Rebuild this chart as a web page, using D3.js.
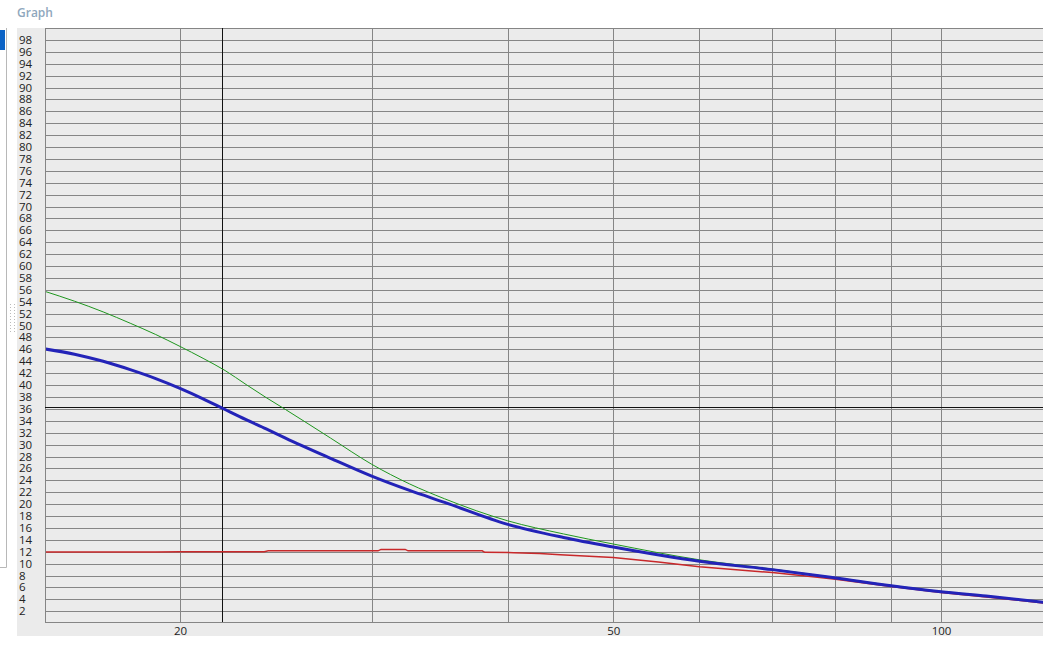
<!DOCTYPE html>
<html><head><meta charset="utf-8">
<script src="https://cdn.jsdelivr.net/npm/d3@7"></script>
<style>body{margin:0;background:#fff;overflow:hidden}svg{display:block}</style>
</head><body><svg id="c" width="1043" height="662"></svg>
<script>
// ---- data ----
const xValues     = [15, 16, 17, 18, 19, 20, 21, 22, 23, 24, 25, 27.5, 30, 32.5, 35, 40, 45, 50, 60, 70, 80, 90, 100, 110, 125];
const greenValues = [55.8, 54.1, 52.3, 50.4, 48.5, 46.5, 44.5, 42.45, 40.1, 37.9, 35.9, 31.1, 26.7, 23.4, 20.9, 17.2, 15.0, 13.3, 10.65, 9.1, 7.65, 6.35, 5.35, 4.6, 3.5];
const blueValues  = [46.1, 45.2, 44.0, 42.6, 41.1, 39.45, 37.7, 35.9, 34.2, 32.65, 31.1, 27.7, 24.7, 22.3, 20.3, 16.6, 14.4, 12.8, 10.4, 9.0, 7.6, 6.3, 5.3, 4.55, 3.45];
const redX        = [15, 19, 20, 23.9, 24.1, 30.4, 30.6, 32.2, 32.4, 37.9, 38.1, 40.5, 42.8, 44.7, 50, 55, 60, 70, 77, 80, 90, 100, 110, 125];
const redValues   = [11.95, 11.95, 12.0, 12.0, 12.15, 12.15, 12.4, 12.4, 12.15, 12.15, 11.9, 11.85, 11.7, 11.5, 11.05, 10.3, 9.5, 8.5, 7.7, 7.4, 6.15, 5.15, 4.4, 3.35];
const xGridValues = [20, 30, 40, 50, 60, 70, 80, 90, 100];
const xTickLabels = [20, 50, 100];
const yTickValues = d3.range(2, 100, 2);
const cursorX = 21.86, cursorY = 36.25;

// ---- layout ----
const svg = d3.select("#c");
const L = 45, T = 28, B = 621.7;
const x = d3.scaleLog().domain([20, 100]).range([180, 941]);
const y = d3.scaleLinear().domain([0.25, 100]).range([B, T]);
const W = 1043;
const font = "'Open Sans', 'Noto Sans', sans-serif";

// title
svg.append("text").attr("x", 17).attr("y", 17).text("Graph")
  .attr("font-family", font).attr("font-size", 12).attr("font-weight", 600)
  .attr("fill", "#8fa7bd");

// left decorations
svg.append("rect").attr("x", 0).attr("y", 30).attr("width", 5).attr("height", 20).attr("fill", "#0b63c6");
svg.append("path").attr("d", "M6.5,28V567.5H0").attr("fill", "none").attr("stroke", "#b8b8b8");
for (let r = 0; r < 10; r++) for (let c = 0; c < 2; c++) {
  svg.append("rect").attr("x", 10 + c * 4).attr("y", 304 + r * 3).attr("width", 1).attr("height", 1).attr("fill", "#bbb");
}

// panel background
svg.append("rect").attr("x", 17).attr("y", T).attr("width", W - 17).attr("height", 636 - T).attr("fill", "#ebebeb");

const gridColor = "#858585";
const g = svg.append("g").attr("shape-rendering", "crispEdges");
g.selectAll("line.h").data(yTickValues).join("line")
  .attr("x1", L).attr("x2", W).attr("y1", d => Math.round(y(d)) + 0.5).attr("y2", d => Math.round(y(d)) + 0.5)
  .attr("stroke", gridColor);
g.selectAll("line.v").data(xGridValues).join("line")
  .attr("x1", d => Math.round(x(d)) + 0.5).attr("x2", d => Math.round(x(d)) + 0.5).attr("y1", T).attr("y2", B)
  .attr("stroke", gridColor);
g.append("path").attr("d", `M${W},${T + 0.5}H${L + 0.5}V${Math.round(B) + 0.5}H${W}`).attr("fill", "none").attr("stroke", gridColor);

// y labels
svg.append("g").selectAll("text").data(yTickValues).join("text")
  .attr("x", 19).attr("y", d => y(d) + 4).text(d => d)
  .attr("font-family", font).attr("font-size", 11.5).attr("fill", "#222");
// x labels
svg.append("g").selectAll("text").data(xTickLabels).join("text")
  .attr("x", d => x(d) + 0.5).attr("y", 634.5).attr("text-anchor", "middle").text(d => d)
  .attr("font-family", font).attr("font-size", 11.5).attr("fill", "#222");

svg.append("clipPath").attr("id", "clip").append("rect").attr("x", L + 1).attr("y", T + 1).attr("width", W - L).attr("height", B - T - 1);

// crosshair
const cg = svg.append("g").attr("shape-rendering", "crispEdges");
cg.append("line").attr("x1", Math.round(x(cursorX)) + 0.5).attr("x2", Math.round(x(cursorX)) + 0.5).attr("y1", T).attr("y2", B).attr("stroke", "#111");
cg.append("line").attr("x1", L).attr("x2", W).attr("y1", Math.round(y(cursorY)) + 0.5).attr("y2", Math.round(y(cursorY)) + 0.5).attr("stroke", "#111");

const lg = svg.append("g").attr("clip-path", "url(#clip)");
const line = d3.line().x(d => x(d[0])).y(d => y(d[1]));
const smooth = d3.line().curve(d3.curveMonotoneX).x(d => x(d[0])).y(d => y(d[1]));
lg.append("path").datum(redX.map((v, i) => [v, redValues[i]])).attr("d", line)
  .attr("fill", "none").attr("stroke", "#c8282a").attr("stroke-width", 1.5);
lg.append("path").datum(xValues.map((v, i) => [v, greenValues[i]])).attr("d", smooth)
  .attr("fill", "none").attr("stroke", "#1e961e").attr("stroke-width", 1);
lg.append("path").datum(xValues.map((v, i) => [v, blueValues[i]])).attr("d", smooth)
  .attr("fill", "none").attr("stroke", "#2323b8").attr("stroke-width", 3);
</script>
</body></html>
